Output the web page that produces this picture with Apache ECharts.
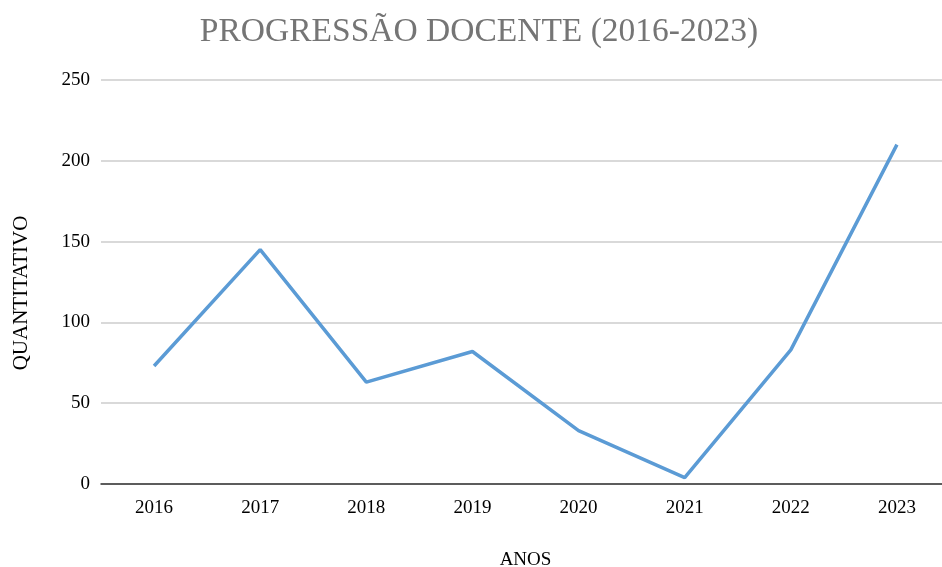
<!DOCTYPE html>
<html lang="pt">
<head>
    <meta charset="UTF-8">
    <title>Progressão docente</title>
    <script src="https://cdn.jsdelivr.net/npm/echarts@6/dist/echarts.min.js"></script>
    <style>
        html, body { margin: 0; padding: 0; background: #fff; }
        #chart { width: 942px; height: 567px; }
    </style>
</head>
<body>
<div id="chart"></div>
<script>
    // dados
    const anos = ['2016', '2017', '2018', '2019', '2020', '2021', '2022', '2023'];
    const quantitativo = [73, 145, 63, 82, 33, 4, 83, 210];
    const yTicks = { min: 0, max: 250, interval: 50 };

    const serif = '"Liberation Serif", "DejaVu Serif", serif';

    const myChart = echarts.init(document.getElementById('chart'));
    myChart.setOption({
        animation: false,
        title: {
            text: 'PROGRESSÃO DOCENTE (2016-2023)',
            left: 474,
            textAlign: 'center',
            top: 10,
            textStyle: { fontFamily: serif, fontSize: 33.5, fontWeight: 'normal', color: '#757575' }
        },
        grid: { left: 101, top: 80, width: 849, height: 404, containLabel: false, outerBoundsMode: 'none' },
        xAxis: {
            type: 'category',
            data: anos,
            boundaryGap: true,
            name: 'ANOS',
            nameLocation: 'middle',
            nameGap: 67,
            nameTextStyle: { fontFamily: serif, fontSize: 19, color: '#000' },
            axisLine: { lineStyle: { color: '#333', width: 1.5 } },
            axisTick: { show: false },
            axisLabel: { fontFamily: serif, fontSize: 19, color: '#000', margin: 15 }
        },
        yAxis: {
            type: 'value',
            min: yTicks.min,
            max: yTicks.max,
            interval: yTicks.interval,
            name: 'QUANTITATIVO',
            nameLocation: 'middle',
            nameGap: 69,
            nameRotate: 90,
            nameTextStyle: { fontFamily: serif, fontSize: 21, color: '#000', padding: [0, 22, 0, 0] },
            axisLine: { show: false },
            axisTick: { show: false },
            axisLabel: { fontFamily: serif, fontSize: 19, color: '#000', margin: 11 },
            splitLine: { lineStyle: { color: '#cccccc', width: 1.5 } }
        },
        series: [{
            name: 'Quantitativo',
            type: 'line',
            data: quantitativo,
            showSymbol: false,
            lineStyle: { color: '#5b9bd5', width: 3.5 },
            itemStyle: { color: '#5b9bd5' }
        }]
    });
</script>
</body>
</html>
